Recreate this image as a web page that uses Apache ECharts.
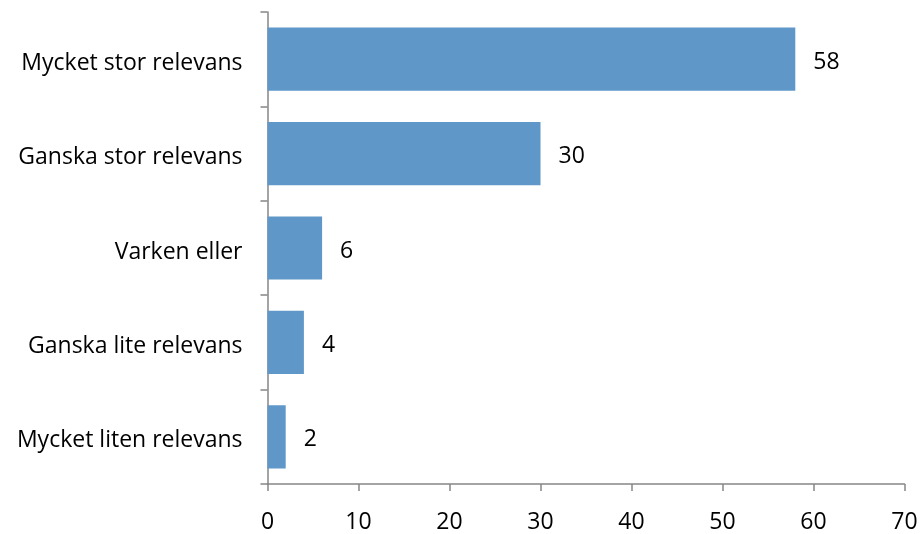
<!DOCTYPE html>
<html><head><meta charset="utf-8">
<script src="https://cdn.jsdelivr.net/npm/echarts@6/dist/echarts.min.js"></script>
<style>html,body{margin:0;padding:0;background:#fff}#c{width:921px;height:534px}</style>
</head><body><div id="c"></div>
<script>
const categories = ["Mycket stor relevans","Ganska stor relevans","Varken eller","Ganska lite relevans","Mycket liten relevans"];
const values = [58, 30, 6, 4, 2];
const xTicks = [0,10,20,30,40,50,60,70];

const chart = echarts.init(document.getElementById('c'), null, {renderer:'canvas'});
const font = '"Open Sans", sans-serif';
chart.setOption({
  animation:false,
  grid:{left:267.5, right:16.5, top:12, bottom:49, containLabel:false},
  xAxis:{type:'value', min:xTicks[0], max:xTicks[xTicks.length-1], interval:10,
    axisLine:{show:true, lineStyle:{color:'#868686', width:1.5}},
    axisTick:{show:true, length:7, lineStyle:{color:'#868686', width:1.5}},
    axisLabel:{color:'#000', fontFamily:font, fontSize:23, margin:27},
    splitLine:{show:false}},
  yAxis:{type:'category', data:categories, inverse:true,
    axisLine:{show:true, lineStyle:{color:'#868686', width:1.5}},
    axisTick:{show:true, length:7, lineStyle:{color:'#868686', width:1.5}},
    axisLabel:{color:'#000', fontFamily:font, fontSize:23, margin:25,
      formatter: v => '{a|' + v + '}',
      rich:{a:{fontFamily:font, fontSize:23, color:'#000', padding:[8,0,0,0]}}}},
  series:[{type:'bar', data:values, barCategoryGap:'33%',
    itemStyle:{color:'#5F97C8'},
    label:{show:true, position:'right', distance:18, offset:[0,3], color:'#000', fontFamily:font, fontSize:23}}]
});
</script></body></html>
